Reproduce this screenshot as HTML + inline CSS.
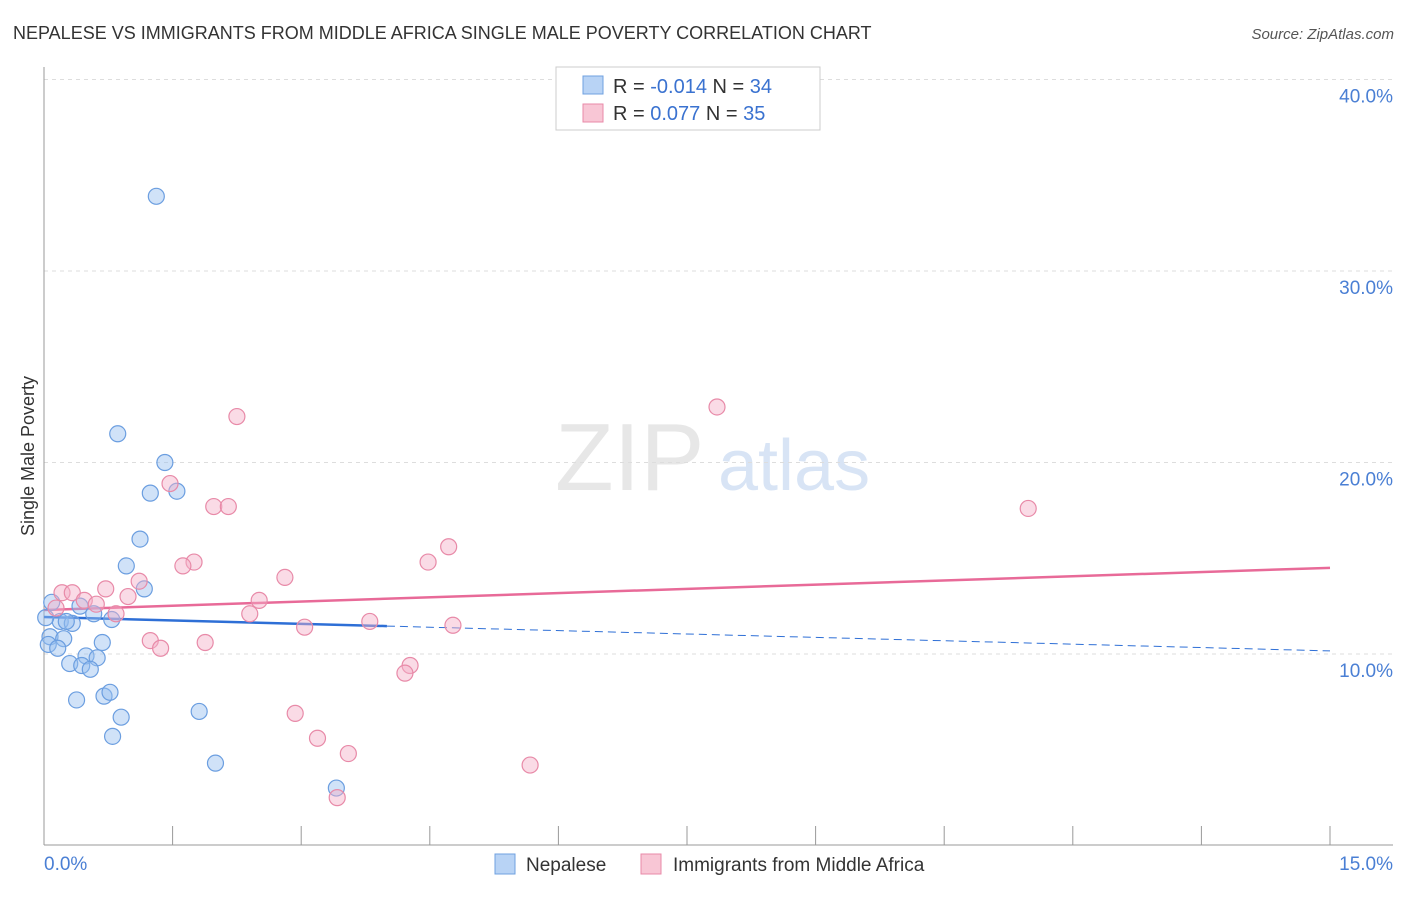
<!DOCTYPE html>
<html><head><meta charset="utf-8"><style>
body{margin:0;background:#fff;font-family:"Liberation Sans",sans-serif;}
svg text{font-family:"Liberation Sans",sans-serif;}
</style></head><body>
<svg id="chart" width="1406" height="892" xmlns="http://www.w3.org/2000/svg">
<text x="13" y="39" font-size="18" fill="#333">NEPALESE VS IMMIGRANTS FROM MIDDLE AFRICA SINGLE MALE POVERTY CORRELATION CHART</text>
<text x="1394" y="39" font-size="15" fill="#555" font-style="italic" text-anchor="end">Source: ZipAtlas.com</text>
<text x="555" y="490" font-size="96" fill="#ddd" font-family="Liberation Serif" opacity="0.7">ZIP</text>
<text x="718" y="490" font-size="72" fill="#c8daf2" opacity="0.7">atlas</text>
<g id="grid"></g>
<line x1="44" y1="67" x2="44" y2="845" stroke="#999"/>
<line x1="44" y1="845" x2="1393" y2="845" stroke="#999"/>
<text transform="translate(34,456) rotate(-90)" font-size="18" fill="#333" text-anchor="middle">Single Male Poverty</text>
<g id="ticks"></g>
<g id="lines"></g>
<g id="points"></g>
<g>
<rect x="556" y="67" width="264" height="63" fill="#fff" stroke="#ccc"/>
<rect x="583" y="76" width="20" height="18" fill="#b8d3f5" stroke="#6fa0e0"/>
<rect x="583" y="104" width="20" height="18" fill="#f8c6d5" stroke="#e88aa8"/>
<text x="613" y="93" font-size="20" fill="#333">R = <tspan fill="#3a72d0">-0.014</tspan>   N = <tspan fill="#3a72d0">34</tspan></text>
<text x="613" y="120" font-size="20" fill="#333">R =  <tspan fill="#3a72d0">0.077</tspan>   N = <tspan fill="#3a72d0">35</tspan></text>
</g>
<g>
<rect x="495" y="854" width="20" height="20" fill="#b8d3f5" stroke="#6fa0e0"/>
<text x="526" y="871" font-size="19" fill="#333">Nepalese</text>
<rect x="641" y="854" width="20" height="20" fill="#f8c6d5" stroke="#e88aa8"/>
<text x="673" y="871" font-size="19" fill="#333">Immigrants from Middle Africa</text>
</g>
</svg>
<script>
const yTicks=[10,20,30,40];
const yTickLabels=["10.0%","20.0%","30.0%","40.0%"];
const xTicks=[0,1.5,3,4.5,6,7.5,9,10.5,12,13.5,15];
const blueX=[1.31,0.86,1.41,1.24,1.55,1.12,0.96,1.17,0.09,0.42,0.58,0.79,0.19,0.33,0.26,0.07,0.23,0.68,0.05,0.16,0.49,0.62,0.30,0.44,0.54,0.38,0.70,0.77,0.90,1.81,0.80,2.0,3.41,0.02];
const blueY=[33.9,21.5,20.0,18.4,18.5,16.0,14.6,13.4,12.7,12.5,12.1,11.8,11.7,11.6,11.7,10.9,10.8,10.6,10.5,10.3,9.9,9.8,9.5,9.4,9.2,7.6,7.8,8.0,6.7,7.0,5.7,4.3,3.0,11.9];
const pinkX=[7.85,2.25,11.48,1.47,1.98,2.15,4.72,4.48,1.75,1.62,2.81,1.11,0.72,0.21,0.33,0.98,0.47,0.61,2.51,0.14,0.84,2.40,3.80,4.77,3.04,1.24,1.36,1.88,4.27,4.21,2.93,3.19,3.55,5.67,3.42];
const pinkY=[22.9,22.4,17.6,18.9,17.7,17.7,15.6,14.8,14.8,14.6,14.0,13.8,13.4,13.2,13.2,13.0,12.8,12.6,12.8,12.4,12.1,12.1,11.7,11.5,11.4,10.7,10.3,10.6,9.4,9.0,6.9,5.6,4.8,4.2,2.5];
const blueTrend=[11.93,10.16];
const pinkTrend=[12.3,14.5];
const blueSolidEnd=4.0;
const NS="http://www.w3.org/2000/svg";
const X=v=>44+v*(1286/15);
const Y=v=>654-(v-10)*19.15;
function mk(t,a,p){const e=document.createElementNS(NS,t);for(const k in a)e.setAttribute(k,a[k]);p.appendChild(e);return e;}
const grid=document.getElementById('grid'),ticks=document.getElementById('ticks'),lines=document.getElementById('lines'),pts=document.getElementById('points');
yTicks.forEach((v,i)=>{
 const l=mk('line',{x1:44,x2:1393,y1:Y(v),y2:Y(v),stroke:'#ddd','stroke-dasharray':'4,4'},grid);
 
 
 const t=mk('text',{x:1393,y:Y(v)+23,'font-size':19,fill:'#4a7fd4','text-anchor':'end'},ticks);
 t.textContent=yTickLabels[i];
 
 
});
xTicks.forEach(v=>{
 const l=mk('line',{x1:X(v),x2:X(v),y1:826,y2:845,stroke:'#999'},ticks);
 
 
});
[["0.0%",44,'start'],["15.0%",1393,'end']].forEach(a=>{
 const t=mk('text',{x:a[1],y:870,'font-size':19,fill:'#4a7fd4','text-anchor':a[2]},ticks);
 t.textContent=a[0];
 
 
});
function tv(tr,x){return tr[0]+(tr[1]-tr[0])*x/15;}
let l=mk('line',{x1:X(0),y1:Y(tv(blueTrend,0)),x2:X(blueSolidEnd),y2:Y(tv(blueTrend,blueSolidEnd)),stroke:'#2e6fd6','stroke-width':2.5},lines);


l=mk('line',{x1:X(blueSolidEnd),y1:Y(tv(blueTrend,blueSolidEnd)),x2:X(15),y2:Y(tv(blueTrend,15)),stroke:'#2e6fd6','stroke-width':1,'stroke-dasharray':'8,5'},lines);


l=mk('line',{x1:X(0),y1:Y(pinkTrend[0]),x2:X(15),y2:Y(pinkTrend[1]),stroke:'#e86a98','stroke-width':2.5},lines);


blueX.forEach((x,i)=>{
 const c=mk('circle',{cx:X(x),cy:Y(blueY[i]),r:8,fill:'rgba(150,190,240,0.45)',stroke:'#6b9ee0','stroke-width':1.2},pts);
 
 
});
pinkX.forEach((x,i)=>{
 const c=mk('circle',{cx:X(x),cy:Y(pinkY[i]),r:8,fill:'rgba(245,175,200,0.45)',stroke:'#e88aa8','stroke-width':1.2},pts);
 
 
});
</script>
</body></html>
